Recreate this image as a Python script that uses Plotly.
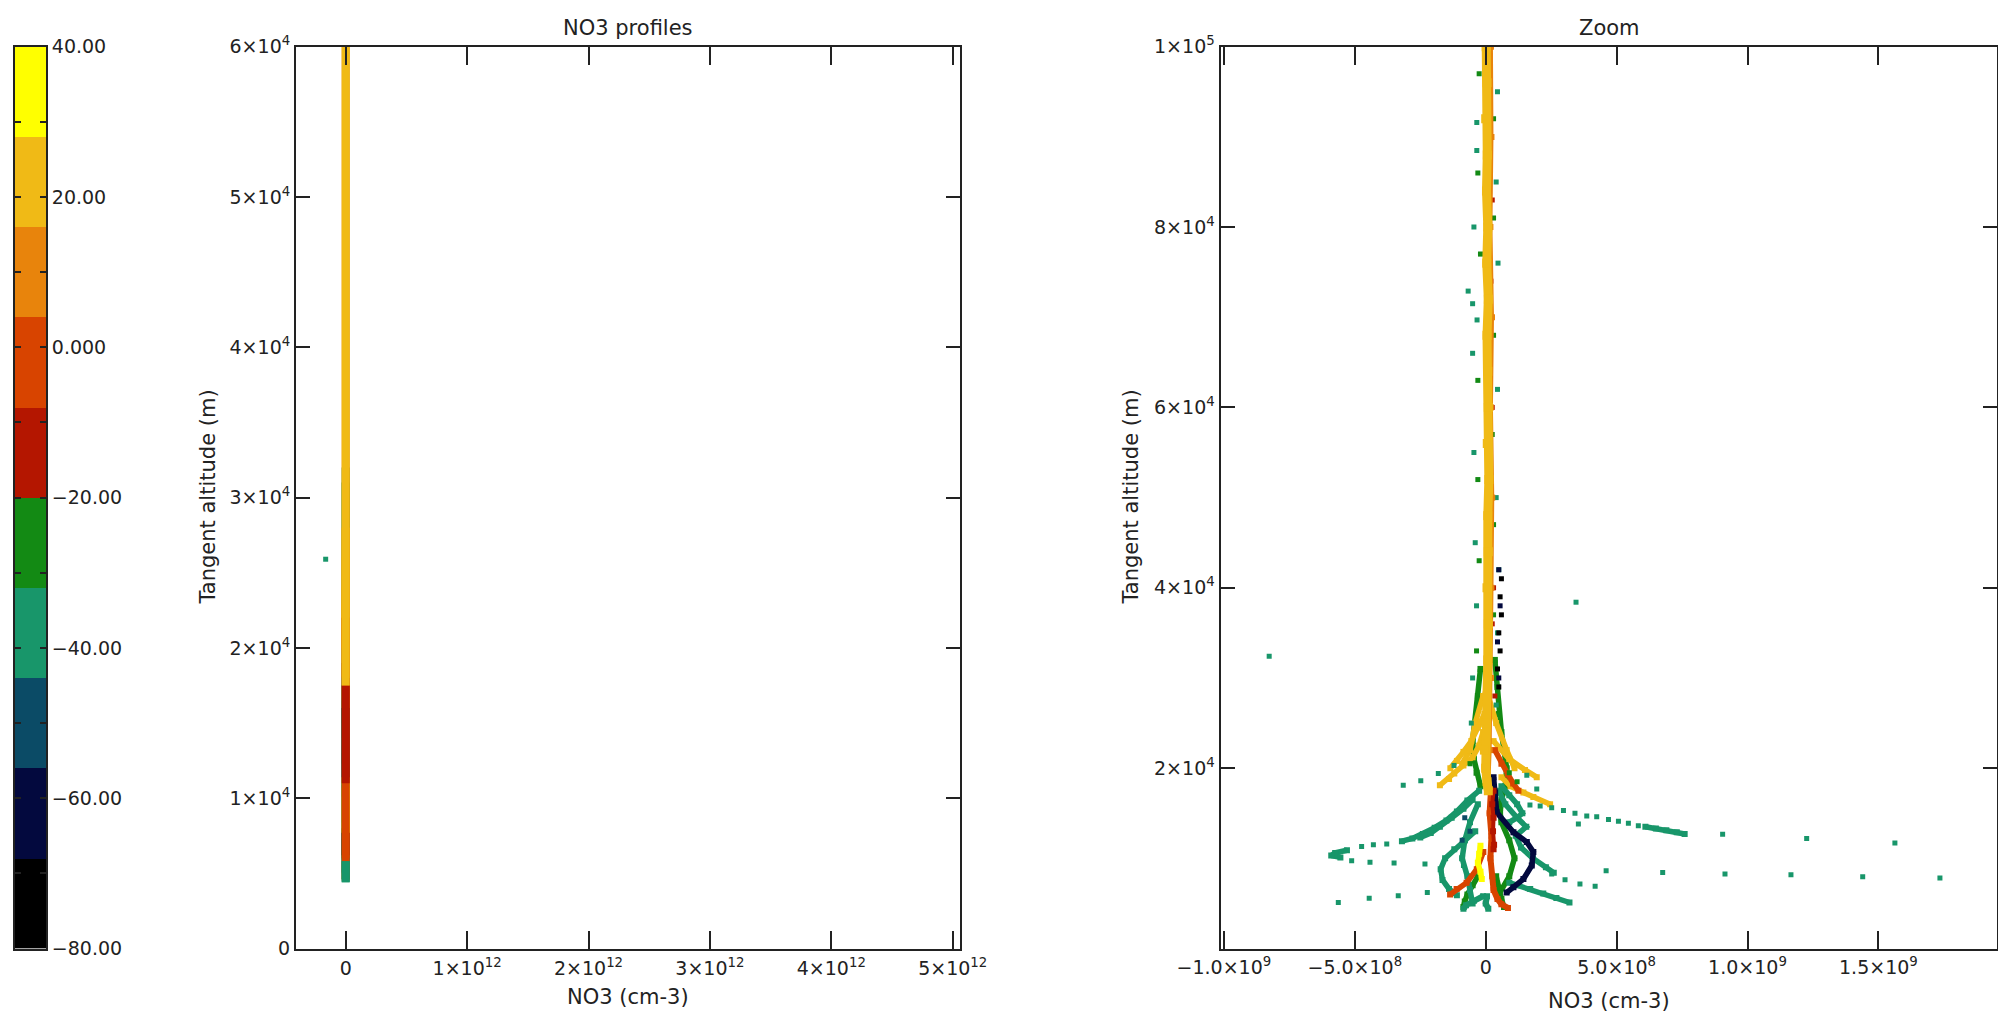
import numpy as np
import plotly.graph_objects as go

W, H = 1998, 1017

# ---------------- colour scale (value bins) ----------------
LAT_EDGES = [-80, -68, -56, -44, -32, -20, -8, 4, 16, 28, 40]
BIN_COLORS = ["#000000", "#03093e", "#0b4b66", "#18966a", "#138a14",
              "#b41600", "#d84400", "#e8840c", "#f0ba16", "#ffff00"]
CB_TICKS = [40, 30, 20, 10, 0, -10, -20, -30, -40, -50, -60, -70, -80]
CB_LABELS = ["40.00", "", "20.00", "", "0.000", "", "\u221220.00", "",
             "\u221240.00", "", "\u221260.00", "", "\u221280.00"]

# ---------------- axis ticks ----------------
L_XTICKS = [0, 1e12, 2e12, 3e12, 4e12, 5e12]
L_XLABELS = ["0", "1\u00d710<sup>12</sup>", "2\u00d710<sup>12</sup>", "3\u00d710<sup>12</sup>",
             "4\u00d710<sup>12</sup>", "5\u00d710<sup>12</sup>"]
L_YTICKS = [0, 1e4, 2e4, 3e4, 4e4, 5e4, 6e4]
L_YLABELS = ["0"] + ["%d\u00d710<sup>4</sup>" % k for k in range(1, 7)]
R_XTICKS = [-1e9, -5e8, 0, 5e8, 1e9, 1.5e9]
R_XLABELS = ["\u22121.0\u00d710<sup>9</sup>", "\u22125.0\u00d710<sup>8</sup>", "0",
             "5.0\u00d710<sup>8</sup>", "1.0\u00d710<sup>9</sup>", "1.5\u00d710<sup>9</sup>"]
R_YTICKS = [2e4, 4e4, 6e4, 8e4, 1e5]
R_YLABELS = ["2\u00d710<sup>4</sup>", "4\u00d710<sup>4</sup>", "6\u00d710<sup>4</sup>",
             "8\u00d710<sup>4</sup>", "1\u00d710<sup>5</sup>"]

# ---------------- profile chains (NO3 in 1e8 cm-3, altitude in km) ----------------
green_left_lat = -26
green_left_alt = [31, 28, 25, 23, 21, 19.5, 18]
green_left_no3 = [-0.2, -0.3, -0.4, -0.5, -0.45, -0.35, -0.2]

green_right_lat = -26
green_right_alt = [32, 29, 26, 24, 22, 20, 18, 16.5, 15]
green_right_no3 = [0.35, 0.45, 0.5, 0.6, 0.7, 0.8, 0.75, 0.6, 0.55]

green_inner_lat = -26
green_inner_alt = [16, 14, 12, 10, 8, 6]
green_inner_no3 = [0.5, 0.6, 0.9, 1.1, 0.9, 0.5]

teal_inner_lat = -38
teal_inner_alt = [16, 14, 12, 10, 8, 6.5, 5]
teal_inner_no3 = [-0.3, -0.6, -0.8, -0.9, -0.7, -0.6, -0.5]

teal_fan_lat = -38
teal_fan_alt = [17.5, 16.4, 15.2, 14.2, 13.4, 12.7, 12.2, 11.9]
teal_fan_no3 = [-0.25, -0.7, -1.1, -1.5, -1.95, -2.4, -2.8, -3.2]

teal_fan2_lat = -38
teal_fan2_alt = [16.5, 15.5, 14.5, 13.5, 12.8, 12.3]
teal_fan2_no3 = [-0.5, -0.85, -1.3, -1.75, -2.1, -2.5]

teal_cluster_lat = -38
teal_cluster_alt = [10.9, 10.6, 10.3, 10.1]
teal_cluster_no3 = [-5.3, -5.75, -5.9, -5.55]

teal_loop_lat = -38
teal_loop_alt = [13.0, 12.0, 11.0, 10.0, 8.8, 7.6, 6.6, 5.9]
teal_loop_no3 = [-0.4, -0.8, -1.2, -1.55, -1.72, -1.65, -1.4, -1.1]

teal_streak_lat = -38
teal_streak_alt = [13.5, 13.3, 13.1, 12.9, 12.7]
teal_streak_no3 = [6.1, 6.5, 6.9, 7.3, 7.6]

teal_rfan_lat = -38
teal_rfan_alt = [17.5, 16.0, 14.5, 13.5, 12.5, 11.2, 10.0, 9.0, 8.4]
teal_rfan_no3 = [0.5, 0.75, 1.2, 1.55, 1.15, 1.35, 1.8, 2.3, 2.6]

teal_rfan2_lat = -38
teal_rfan2_alt = [18, 17, 16, 15, 14.5, 14]
teal_rfan2_no3 = [0.6, 0.9, 1.2, 1.4, 1.2, 0.9]

teal_lowr_lat = -38
teal_lowr_alt = [7.3, 7.0, 6.6, 6.1, 5.6, 5.1]
teal_lowr_no3 = [0.9, 1.2, 1.7, 2.2, 2.7, 3.2]

green_botl_lat = -26
green_botl_alt = [8, 7, 6, 5.2, 4.6]
green_botl_no3 = [-0.3, -0.5, -0.7, -0.8, -0.85]

green_botr_lat = -26
green_botr_alt = [8, 6.5, 5.5, 4.6]
green_botr_no3 = [0.4, 0.5, 0.6, 0.7]

navy_lat = -62
navy_alt = [19, 17.3, 15.1, 12.9, 11.8, 10.7, 9.2, 7.7, 6.8, 6.2]
navy_no3 = [0.3, 0.36, 0.42, 1.06, 1.57, 1.82, 1.76, 1.44, 1.06, 0.8]

gold_fla_lat = 22
gold_fla_alt = [24, 22.5, 21.2, 20.3, 19.4, 18.8, 18.1]
gold_fla_no3 = [-0.1, -0.25, -0.5, -0.85, -1.2, -1.4, -1.75]

gold_flb_lat = 22
gold_flb_alt = [26, 24.5, 23, 21.8, 20.8, 20.0]
gold_flb_no3 = [-0.05, -0.3, -0.55, -0.85, -1.1, -1.35]

gold_conel_lat = 22
gold_conel_alt = [28, 25, 22, 20.5]
gold_conel_no3 = [-0.1, -0.4, -0.6, -0.9]

gold_coner_lat = 22
gold_coner_alt = [28, 25, 22, 20]
gold_coner_no3 = [0.1, 0.4, 0.8, 1.1]

gold_fr_lat = 22
gold_fr_alt = [23, 21, 19.8, 19.0]
gold_fr_no3 = [0.3, 0.9, 1.5, 1.95]

gold_frl_lat = 22
gold_frl_alt = [19, 18, 17.3, 16.8, 16.0]
gold_frl_no3 = [0.6, 0.95, 1.44, 1.82, 2.46]

redor_right_lat = -2
redor_right_alt = [22, 20.5, 19.3, 18.3, 17.5]
redor_right_no3 = [0.35, 0.6, 0.85, 1.05, 1.25]

redor_left_lat = -2
redor_left_alt = [10.7, 8.8, 7.3, 6.6, 6.0]
redor_left_no3 = [-0.09, -0.34, -0.73, -1.11, -1.36]

yellow_lat = 34
yellow_alt = [11.4, 10.5, 9.5, 8.5, 7.7]
yellow_no3 = [-0.2, -0.25, -0.3, -0.2, -0.15]

orange_core_lat = 10
orange_core_alt = [100, 90, 80, 70, 60, 50, 40, 30, 22, 18]
orange_core_no3 = [0.2, 0.22, 0.18, 0.24, 0.2, 0.25, 0.22, 0.2, 0.15, 0.1]

red_core_lat = -2
red_core_alt = [17.5, 15, 12.5, 10, 8, 6.5, 5.5, 4.9, 4.5]
red_core_no3 = [0.2, 0.15, 0.22, 0.18, 0.25, 0.3, 0.45, 0.6, 0.85]

darkred_core_lat = -14
darkred_core_alt = [17.5, 16, 14.5, 13, 11.5, 11]
darkred_core_no3 = [0.3, 0.25, 0.3, 0.28, 0.32, 0.3]

teal_bot_lat = -38
teal_bot_alt = [5.8, 5.3, 4.8, 4.4]
teal_bot_no3 = [-0.1, -0.45, -0.75, -0.85]

teal_bot2_lat = -38
teal_bot2_alt = [5.8, 5.0, 4.4]
teal_bot2_no3 = [0.05, 0.0, 0.1]

gold_core_lat = 22
gold_core_alt = [100, 96, 92, 88, 84, 80, 76, 72, 68, 64, 60, 56, 52, 48, 44, 40,
                 36, 32, 28, 25, 22, 20, 18.5, 17.5]
gold_core_no3 = [0.02, 0.05, 0.0, 0.06, 0.03, 0.08, 0.04, 0.1, 0.05, 0.08, 0.1, 0.06,
                 0.12, 0.08, 0.1, 0.05, 0.1, 0.08, 0.05, 0.0, -0.05, 0.0, 0.05, 0.1]

# ---------------- isolated points ----------------
teal_dots_lat = -38
teal_dots_no3 = [3.45, -8.27, -1650,
                 1.69, 2.08, 2.52, 2.97, 3.41, 3.86, 4.24, 4.69, 5.07, 5.45, 5.83, 3.54,
                 9.05, 12.26, 15.63, 9.14, 11.66, 14.4, 17.35, 4.6, 6.76,
                 2.52, 3.03, 3.6, 4.18, -4.74, -4.29, -3.78,
                 -5.12, -4.42, -3.5, -2.32, -0.85, -5.63, -4.45, -3.34, -2.23,
                 -3.15, -2.48, -1.81, -1.21, 1.57, 1.95,
                 -0.67, -0.5, -0.33, -0.34, -0.34, 0.45, 0.4, -0.45, 0.47, -0.5,
                 0.45, -0.45, 0.4, -0.4, 0.5, -0.35, 0.45, -0.5, 0.4, -0.55]
teal_dots_alt = [38.4, 32.4, 25.9,
                 15.9, 15.8, 15.6, 15.3, 15.0, 14.7, 14.6, 14.3, 14.1, 13.9, 13.6, 13.8,
                 12.67, 12.2, 11.7, 8.26, 8.18, 7.96, 7.81, 8.63, 8.44,
                 8.26, 7.63, 7.15, 6.89, 11.3, 11.5, 11.6,
                 9.74, 9.56, 9.48, 9.37, 9.19, 5.11, 5.56, 5.85, 6.22,
                 18.1, 18.6, 19.4, 20.3, 19.2, 17.7,
                 72.9, 71.5, 69.7, 91.6, 88.5, 95, 85, 80, 76, 66,
                 62, 55, 50, 45, 42, 38, 35, 30, 27, 25]

green_dots_lat = -26
green_dots_no3 = [-0.25, 0.3, -0.3, 0.3, -0.2, 0.3, -0.3, 0.25, -0.3, 0.3, -0.25, 0.3, -0.35,
                  -0.6, 0.9, 1.2]
green_dots_alt = [97, 92, 86, 81, 77, 68, 63, 57, 52, 47, 43, 37, 33, 20.5, 19.5, 18.5]

darkred_dots_lat = -14
darkred_dots_no3 = [0.2, 0.25, 0.2, 0.25, 0.2, 0.3, 0.25, 0.35]
darkred_dots_alt = [90, 83, 74, 60, 48, 40, 36, 28]

black_dots_lat = -74
black_dots_no3 = [0.6, 0.55, 0.6, 0.5, 0.55, 0.45, 0.5]
black_dots_alt = [41, 39, 37, 35, 33, 31, 29]

navy_dots_lat = -62
navy_dots_no3 = [0.5, 0.55, 0.45, 0.5]
navy_dots_alt = [42, 38, 34, 30]

dteal_dots_lat = -50
dteal_dots_no3 = [-0.8, -0.6, -0.9]
dteal_dots_alt = [14.5, 13.0, 12.0]

# ---------------- assemble ----------------
NO3_UNIT = 1e8   # list values are in units of 1e8 cm-3
ALT_UNIT = 1e3   # list values are in km

chains_before = [
    (green_left_lat, green_left_alt, green_left_no3),
    (green_right_lat, green_right_alt, green_right_no3),
    (green_inner_lat, green_inner_alt, green_inner_no3),
    (green_botl_lat, green_botl_alt, green_botl_no3),
    (green_botr_lat, green_botr_alt, green_botr_no3),
    (teal_inner_lat, teal_inner_alt, teal_inner_no3),
    (teal_fan_lat, teal_fan_alt, teal_fan_no3),
    (teal_fan2_lat, teal_fan2_alt, teal_fan2_no3),
    (teal_cluster_lat, teal_cluster_alt, teal_cluster_no3),
    (teal_loop_lat, teal_loop_alt, teal_loop_no3),
    (teal_streak_lat, teal_streak_alt, teal_streak_no3),
    (teal_rfan_lat, teal_rfan_alt, teal_rfan_no3),
    (teal_rfan2_lat, teal_rfan2_alt, teal_rfan2_no3),
    (teal_lowr_lat, teal_lowr_alt, teal_lowr_no3),
    (navy_lat, navy_alt, navy_no3),
    (gold_conel_lat, gold_conel_alt, gold_conel_no3),
    (gold_coner_lat, gold_coner_alt, gold_coner_no3),
    (gold_fla_lat, gold_fla_alt, gold_fla_no3),
    (gold_flb_lat, gold_flb_alt, gold_flb_no3),
    (gold_fr_lat, gold_fr_alt, gold_fr_no3),
    (gold_frl_lat, gold_frl_alt, gold_frl_no3),
    (redor_right_lat, redor_right_alt, redor_right_no3),
    (redor_left_lat, redor_left_alt, redor_left_no3),
    (yellow_lat, yellow_alt, yellow_no3),
]
chains_after = [
    (orange_core_lat, orange_core_alt, orange_core_no3, 4),
    (red_core_lat, red_core_alt, red_core_no3, 6),
    (darkred_core_lat, darkred_core_alt, darkred_core_no3, 4),
    (teal_bot_lat, teal_bot_alt, teal_bot_no3, 6),
    (teal_bot2_lat, teal_bot2_alt, teal_bot2_no3, 6),
    (gold_core_lat, gold_core_alt, gold_core_no3, 9),
]
dot_groups = [
    (teal_dots_lat, teal_dots_alt, teal_dots_no3),
    (green_dots_lat, green_dots_alt, green_dots_no3),
    (darkred_dots_lat, darkred_dots_alt, darkred_dots_no3),
    (black_dots_lat, black_dots_alt, black_dots_no3),
    (navy_dots_lat, navy_dots_alt, navy_dots_no3),
    (dteal_dots_lat, dteal_dots_alt, dteal_dots_no3),
]


def lat_color(v):
    for i in range(len(BIN_COLORS)):
        if LAT_EDGES[i] <= v < LAT_EDGES[i + 1]:
            return BIN_COLORS[i]
    return BIN_COLORS[-1]


cmin, cmax = LAT_EDGES[0], LAT_EDGES[-1]
colorscale = []
for i, c in enumerate(BIN_COLORS):
    a = (LAT_EDGES[i] - cmin) / (cmax - cmin)
    b = (LAT_EDGES[i + 1] - cmin) / (cmax - cmin)
    colorscale += [[a, c], [b, c]]

fig = go.Figure()

# colour bar drawn as a one-column heatmap of the bins
bin_centers = [(LAT_EDGES[i] + LAT_EDGES[i + 1]) / 2 for i in range(len(BIN_COLORS))]
fig.add_trace(go.Heatmap(x=[0, 1], y=LAT_EDGES, z=[[c] for c in bin_centers],
                         colorscale=colorscale, zmin=cmin, zmax=cmax, showscale=False,
                         xaxis="x3", yaxis="y3", hoverinfo="skip"))


def add_chain(lat, alt, no3, panel, width):
    col = lat_color(lat)
    x = np.array(no3) * NO3_UNIT
    y = np.array(alt) * ALT_UNIT
    if panel == 1:
        fig.add_trace(go.Scatter(x=x, y=y, mode="lines", xaxis="x", yaxis="y",
                                 line=dict(color=col, width=8), showlegend=False,
                                 hoverinfo="skip"))
    else:
        fig.add_trace(go.Scatter(x=x, y=y, mode="lines+markers", xaxis="x2", yaxis="y2",
                                 line=dict(color=col, width=width),
                                 marker=dict(symbol="square", size=max(6, width), color=col),
                                 showlegend=False, hoverinfo="skip"))


dot_x = np.concatenate([np.array(g[2]) * NO3_UNIT for g in dot_groups])
dot_y = np.concatenate([np.array(g[1]) * ALT_UNIT for g in dot_groups])
dot_c = np.concatenate([np.full(len(g[1]), g[0], dtype=float) for g in dot_groups])

for panel in (1, 2):
    for lat, alt, no3 in chains_before:
        add_chain(lat, alt, no3, panel, 5.5)
    ax = "x" if panel == 1 else "x2"
    ay = "y" if panel == 1 else "y2"
    fig.add_trace(go.Scatter(
        x=dot_x, y=dot_y, mode="markers", xaxis=ax, yaxis=ay, showlegend=False,
        hoverinfo="skip",
        marker=dict(symbol="square", size=5, color=dot_c, colorscale=colorscale,
                    cmin=cmin, cmax=cmax, showscale=False)))
    for lat, alt, no3, wdt in chains_after:
        add_chain(lat, alt, no3, panel, wdt)

FONT = "DejaVu Sans"
axis_common = dict(showgrid=False, zeroline=False, showline=True, linecolor="#222",
                   linewidth=2, mirror="ticks", ticks="inside", tickwidth=2,
                   tickcolor="#222", tickmode="array", automargin=False,
                   tickfont=dict(family=FONT, size=19, color="#222"))

top_px, bot_px = 46.7, 948.5
ydom = [1 - bot_px / H, 1 - top_px / H]

fig.update_layout(
    width=W, height=H, autosize=False, showlegend=False,
    margin=dict(l=0, r=0, t=0, b=0, pad=0, autoexpand=False),
    paper_bgcolor="white", plot_bgcolor="white",
    xaxis=dict(axis_common, domain=[296 / W, 960 / W], range=[-0.4094e12, 5.060e12],
               tickvals=L_XTICKS, ticktext=L_XLABELS, ticklen=18, anchor="y",
               ticklabelstandoff=2),
    yaxis=dict(axis_common, domain=ydom, range=[0, 6e4],
               tickvals=L_YTICKS, ticktext=L_YLABELS, ticklen=14, anchor="x"),
    xaxis2=dict(axis_common, domain=[1220.5 / W, 1997 / W], range=[-1.013e9, 1.953e9],
                tickvals=R_XTICKS, ticktext=R_XLABELS, ticklen=18, anchor="y2",
                ticklabelstandoff=1),
    yaxis2=dict(axis_common, domain=ydom, range=[0, 1e5],
                tickvals=R_YTICKS, ticktext=R_YLABELS, ticklen=14, anchor="x2"),
    xaxis3=dict(domain=[15 / W, 46 / W], range=[0, 1], showticklabels=False, ticks="",
                showgrid=False, zeroline=False, showline=True, linecolor="#222",
                linewidth=2, mirror=True, anchor="y3", automargin=False),
    yaxis3=dict(domain=ydom, range=[cmin, cmax], side="right", tickmode="array",
                tickvals=CB_TICKS, ticktext=CB_LABELS, ticks="inside", ticklen=6,
                tickwidth=1.5, tickcolor="#222", showgrid=False, zeroline=False,
                showline=True, linecolor="#222", linewidth=2, mirror="ticks",
                anchor="x3", automargin=False,
                tickfont=dict(family=FONT, size=19, color="#222")),
)

tfont = dict(family=FONT, size=21, color="#222")
ann = [
    dict(text="NO3 profiles", x=628 / W, y=1 - 28 / H),
    dict(text="Zoom", x=1609 / W, y=1 - 28 / H),
    dict(text="NO3 (cm-3)", x=628 / W, y=1 - 997 / H),
    dict(text="NO3 (cm-3)", x=1609 / W, y=1 - 1001 / H),
    dict(text="Tangent altitude (m)", x=207 / W, y=1 - 497.5 / H, textangle=-90),
    dict(text="Tangent altitude (m)", x=1130 / W, y=1 - 497.5 / H, textangle=-90),
]
for a in ann:
    a.update(xref="paper", yref="paper", xanchor="center", yanchor="middle",
             showarrow=False, font=tfont)
fig.update_layout(annotations=ann)

fig.write_html("out.html", config={"displayModeBar": False},
               post_script="document.body.style.margin='0';document.body.style.overflow='hidden';")
